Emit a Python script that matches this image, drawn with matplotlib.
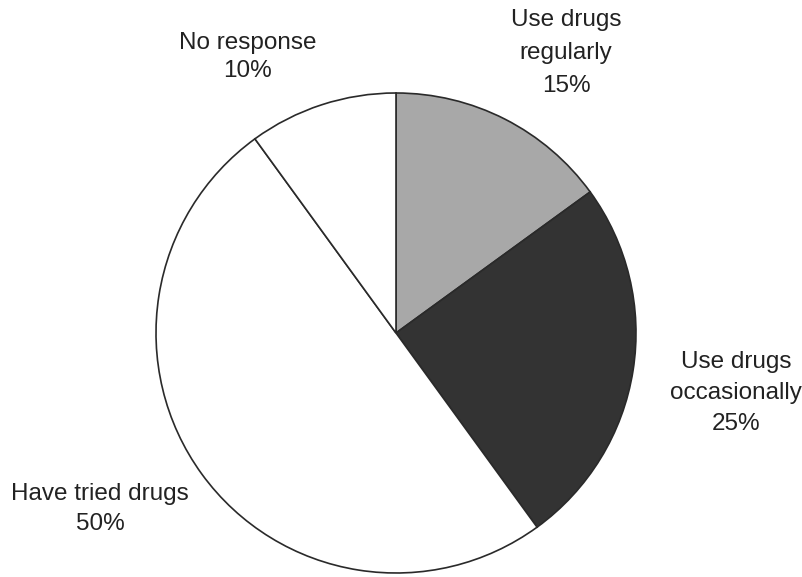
import matplotlib
matplotlib.use("Agg")
import matplotlib.pyplot as plt

labels = ["Use drugs\nregularly", "Use drugs\noccasionally", "Have tried drugs", "No response"]
shares = [15, 25, 50, 10]
colors = ["#a8a8a8", "#333333", "#ffffff", "#ffffff"]

W, H = 803, 577
fig = plt.figure(figsize=(W / 100, H / 100), dpi=100)
ax = fig.add_axes([0, 0, 1, 1])

cx, cy, r = 396, H - 333, 240
ax.pie(shares, colors=colors, startangle=90, counterclock=False,
       center=(cx, cy), radius=r, frame=True,
       wedgeprops=dict(edgecolor="#2a2a2a", linewidth=1.2))
ax.set_xlim(0, W)
ax.set_ylim(0, H)
ax.set_aspect("equal")
ax.axis("off")

label_pos = [(566, 53), (736, 393), (100, 509), (248, 57)]
spacing = [1.65, 1.55, 1.45, 1.35]
for lab, val, (x, y), ls in zip(labels, shares, label_pos, spacing):
    ax.text(x, H - y, f"{lab}\n{val}%", ha="center", va="center",
            fontsize=17.5, family="Liberation Sans", color="#222222",
            linespacing=ls)

fig.savefig("out.png", dpi=100)
